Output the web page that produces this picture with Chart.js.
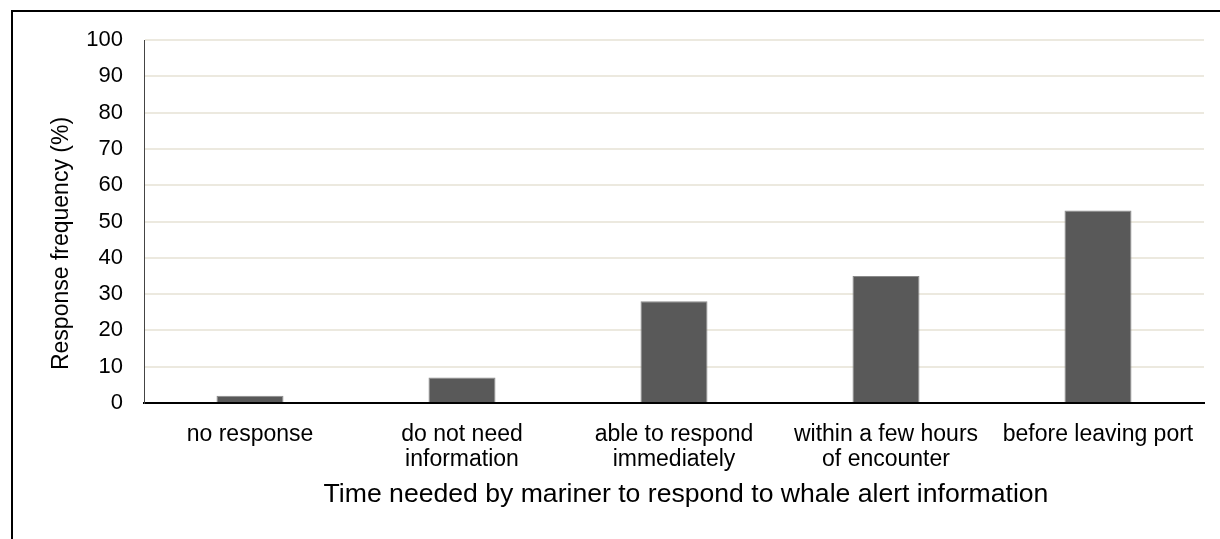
<!DOCTYPE html>
<html>
<head>
<meta charset="utf-8">
<script src="https://cdn.jsdelivr.net/npm/chart.js@4/dist/chart.umd.min.js"></script>
<style>
  html, body { margin: 0; padding: 0; background: #ffffff; }
  #wrap { position: relative; width: 1220px; height: 539px; }
</style>
</head>
<body>
<div id="wrap"><canvas id="chart" width="1220" height="539"></canvas></div>
<script>
// Survey responses: time mariners need to act on whale alert information
const categories = [
  'no response',
  ['do not need', 'information'],
  ['able to respond', 'immediately'],
  ['within a few hours', 'of encounter'],
  'before leaving port'
];
const responseFrequency = [2, 7, 28, 35, 53];
const yTicks = [0, 10, 20, 30, 40, 50, 60, 70, 80, 90, 100];
const yAxisTitle = 'Response frequency (%)';
const xAxisTitle = 'Time needed by mariner to respond to whale alert information';

const FONT = 'Liberation Sans, Arial, sans-serif';

// Frame lines along the top and left of the figure, plus both axis titles
const framePlugin = {
  id: 'frame',
  afterDraw(chart) {
    const ctx = chart.ctx;
    const area = chart.chartArea;
    ctx.save();
    ctx.strokeStyle = '#000000';
    ctx.lineWidth = 2;
    ctx.beginPath();
    ctx.moveTo(12, 539);
    ctx.lineTo(12, 11);
    ctx.lineTo(1220, 11);
    ctx.stroke();

    ctx.fillStyle = '#000000';
    ctx.textAlign = 'center';
    ctx.textBaseline = 'middle';

    // Horizontal title, centred a little right of the plot centre
    ctx.font = '26.6px ' + FONT;
    ctx.fillText(xAxisTitle, (area.left + area.right) / 2 + 12, area.bottom + 92);

    // Vertical title sits slightly below the plot's mid-height
    ctx.translate(62, (area.top + area.bottom) / 2 + 22);
    ctx.rotate(-Math.PI / 2);
    ctx.font = '23px ' + FONT;
    ctx.fillText(yAxisTitle, 0, 0);
    ctx.restore();
  }
};

new Chart(document.getElementById('chart'), {
  type: 'bar',
  data: {
    labels: categories,
    datasets: [{
      data: responseFrequency,
      backgroundColor: '#595959',
      borderColor: '#8a8a8a',
      borderWidth: 1,
      categoryPercentage: 1,
      barPercentage: 0.316
    }]
  },
  options: {
    responsive: false,
    animation: false,
    devicePixelRatio: 1,
    layout: { padding: { left: 0, right: 16, top: 40, bottom: 0 } },
    plugins: {
      legend: { display: false },
      tooltip: { enabled: false }
    },
    scales: {
      x: {
        grid: { display: false, drawTicks: false },
        border: { display: true, color: '#000000', width: 2 },
        ticks: {
          color: '#000000',
          font: { family: FONT, size: 23, lineHeight: 1.05 },
          padding: 20,
          maxRotation: 0,
          autoSkip: false
        },
        title: { display: false },
        afterFit(scale) { scale.height = 136; }
      },
      y: {
        min: 0,
        max: 100,
        afterBuildTicks(scale) { scale.ticks = yTicks.map(v => ({ value: v })); },
        grid: {
          color: ctx => ctx.tick && ctx.tick.value === 0 ? 'rgba(0,0,0,0)' : '#ECE9DF',
          lineWidth: 2,
          drawTicks: false
        },
        border: { display: true, color: '#444444', width: 1 },
        ticks: {
          color: '#000000',
          font: { family: FONT, size: 22 },
          padding: 21
        },
        title: { display: false },
        afterFit(scale) { scale.width = 144; }
      }
    }
  },
  plugins: [framePlugin]
});
</script>
</body>
</html>
